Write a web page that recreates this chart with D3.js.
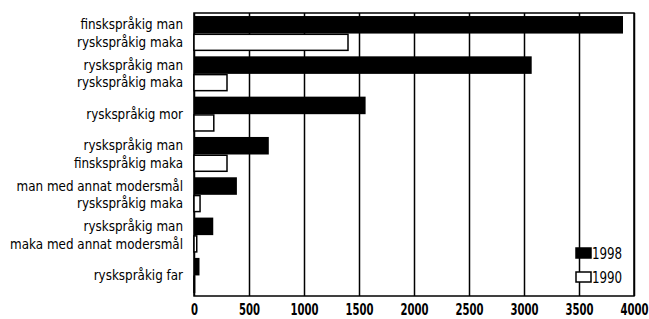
<!DOCTYPE html>
<html>
<head>
<meta charset="utf-8">
<script src="https://cdn.jsdelivr.net/npm/d3@7"></script>
<style>
  body { margin: 0; background: #fff; }
  text { font-family: "DejaVu Sans Condensed", "Liberation Sans Narrow", sans-serif; fill: #000; }
  .cat { font-size: 13.3px; }
  .tick text { font-size: 16px; font-weight: bold; }
  .legend text { font-size: 15.5px; }
</style>
</head>
<body>
<div id="chart"></div>
<script>
// category labels (two lines where the pair is man / wife)
var categories = [
  ["finskspråkig man", "ryskspråkig maka"],
  ["ryskspråkig man", "ryskspråkig maka"],
  ["ryskspråkig mor"],
  ["ryskspråkig man", "finskspråkig maka"],
  ["man med annat modersmål", "ryskspråkig maka"],
  ["ryskspråkig man", "maka med annat modersmål"],
  ["ryskspråkig far"]
];
var series = ["1998", "1990"];
var values1998 = [3900, 3070, 1560, 680, 390, 175, 50];
var values1990 = [1400, 300, 180, 300, 55, 25, 5];
var xTicks = [0, 500, 1000, 1500, 2000, 2500, 3000, 3500, 4000];

var svgWidth = 649;
var svgHeight = 319;
var margin = { top: 13, right: 15, bottom: 23, left: 194 };
var width = svgWidth - margin.left - margin.right;
var height = svgHeight - margin.top - margin.bottom;

var svg = d3.select("#chart").append("svg")
  .attr("width", svgWidth)
  .attr("height", svgHeight);

var chartGroup = svg.append("g")
  .attr("transform", `translate(${margin.left}, ${margin.top})`);

var data = categories.map(function(c, i) {
  return { key: i, label: c, v1998: values1998[i], v1990: values1990[i] };
});

var xScale = d3.scaleLinear().domain([0, 4000]).range([0, width]);
var yScale = d3.scaleBand()
  .domain(data.map(d => d.key))
  .range([0, height])
  .paddingInner(0.13)
  .paddingOuter(0.075);
var subScale = d3.scaleBand().domain(series).range([0, yScale.bandwidth()]);

// gridlines + tick labels
var xAxis = chartGroup.append("g")
  .attr("transform", `translate(0, ${height})`)
  .call(d3.axisBottom(xScale).tickValues(xTicks).tickSize(-height).tickPadding(8).tickFormat(d3.format("d")));
xAxis.select(".domain").remove();
xAxis.selectAll(".tick line").attr("stroke", "#000").attr("stroke-width", 1.5);
// narrow the digits like the condensed face of the original
xAxis.selectAll(".tick text").attr("transform", "scale(0.7, 1)");

// frame
chartGroup.append("rect")
  .attr("x", 0).attr("y", 0)
  .attr("width", width).attr("height", height)
  .attr("fill", "none").attr("stroke", "#000").attr("stroke-width", 1.5);

var groups = chartGroup.selectAll(".grp")
  .data(data)
  .enter()
  .append("g")
  .attr("class", "grp")
  .attr("transform", d => `translate(0, ${yScale(d.key)})`);

groups.append("rect")
  .attr("x", 0)
  .attr("y", subScale("1998"))
  .attr("width", d => xScale(d.v1998))
  .attr("height", subScale.bandwidth())
  .attr("fill", "#000");

groups.append("rect")
  .attr("x", 0)
  .attr("y", subScale("1990") + 0.75)
  .attr("width", d => xScale(d.v1990))
  .attr("height", subScale.bandwidth() - 1.5)
  .attr("fill", "#fff")
  .attr("stroke", "#000")
  .attr("stroke-width", 1.5);

// category labels
groups.each(function(d) {
  var g = d3.select(this);
  if (d.label.length === 2) {
    d.label.forEach(function(line, j) {
      g.append("text")
        .attr("class", "cat")
        .attr("x", -11)
        .attr("y", subScale(series[j]) + subScale.bandwidth() / 2)
        .attr("dy", "0.35em")
        .attr("text-anchor", "end")
        .text(line);
    });
  } else {
    g.append("text")
      .attr("class", "cat")
      .attr("x", -11)
      .attr("y", yScale.bandwidth() / 2)
      .attr("dy", "0.35em")
      .attr("text-anchor", "end")
      .text(d.label[0]);
  }
});

// legend
var legend = chartGroup.append("g")
  .attr("class", "legend")
  .attr("transform", `translate(${xScale(3500) - 3}, ${248 - margin.top})`);

series.forEach(function(s, i) {
  legend.append("rect")
    .attr("x", 0)
    .attr("y", i * 24)
    .attr("width", 15)
    .attr("height", 10)
    .attr("fill", s === "1998" ? "#000" : "#fff")
    .attr("stroke", "#000")
    .attr("stroke-width", 1.5);
  legend.append("text")
    .attr("transform", `translate(16, ${i * 24 + 5}) scale(0.85, 1)`)
    .attr("dy", "0.36em")
    .text(s);
});
</script>
</body>
</html>
